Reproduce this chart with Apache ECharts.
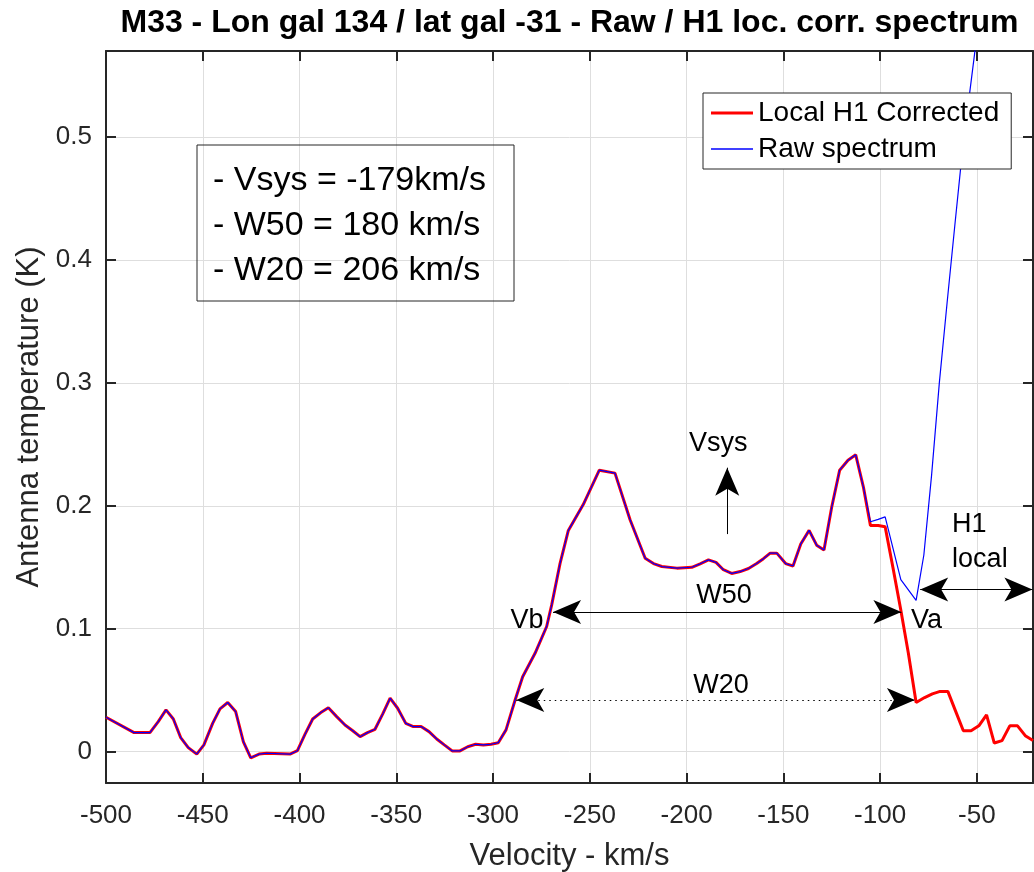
<!DOCTYPE html>
<html>
<head>
<meta charset="utf-8">
<script src="https://cdn.jsdelivr.net/npm/echarts@6/dist/echarts.min.js"></script>
<style>
  html, body { margin: 0; padding: 0; background: #ffffff; }
  #chart { width: 1034px; height: 872px; }
</style>
</head>
<body>
<div id="chart"></div>
<script>
// M33 HI profile: [velocity km/s, antenna temperature K]
// Channels where the raw and the local-HI corrected spectra coincide
const profileShared = [
  [-500, 0.028], [-485.5, 0.0155], [-477.3, 0.0155], [-473, 0.0244], [-469, 0.034],
  [-465.2, 0.0266], [-461.4, 0.0114], [-457.5, 0.0033], [-453.1, -0.002], [-449.4, 0.0055],
  [-444.9, 0.023], [-441.1, 0.0348], [-437.1, 0.040], [-433, 0.0326], [-429, 0.008],
  [-425.2, -0.005], [-420.9, -0.002], [-417, -0.0013], [-404.9, -0.002], [-401.1, 0.0008],
  [-397.2, 0.014], [-393.2, 0.0266], [-389, 0.0318], [-385.1, 0.0358], [-380.8, 0.0285],
  [-376.5, 0.0217], [-372.5, 0.017], [-368.7, 0.0122], [-364.9, 0.0155], [-361, 0.0182],
  [-357, 0.0307], [-353.2, 0.0435], [-349.3, 0.0353], [-345.1, 0.023], [-341.2, 0.0204],
  [-337.2, 0.0204], [-333.1, 0.0163], [-329.1, 0.0103], [-325.2, 0.0055], [-321.1, 0.0006],
  [-317.1, 0.0006], [-313.1, 0.004], [-309, 0.006], [-305, 0.0055], [-301, 0.006],
  [-297.3, 0.0073], [-293.3, 0.0177], [-288.6, 0.042], [-284.7, 0.061], [-278.3, 0.080],
  [-272.3, 0.1018], [-269.7, 0.1194], [-265.4, 0.153], [-261.1, 0.180], [-253.4, 0.201],
  [-245.1, 0.229], [-237, 0.2266], [-229.2, 0.1886], [-221.4, 0.1574], [-217.1, 0.153],
  [-212.8, 0.1506], [-205, 0.1493], [-197.3, 0.150], [-193, 0.1528], [-188.7, 0.156],
  [-184.8, 0.154], [-181, 0.148], [-176.7, 0.145], [-172.3, 0.1465], [-168, 0.149],
  [-163.8, 0.153], [-160.3, 0.157], [-156.8, 0.1615], [-153.4, 0.1615], [-148.8, 0.153],
  [-145, 0.151], [-141, 0.169], [-136.7, 0.180], [-132.8, 0.168], [-129, 0.164],
  [-125, 0.199], [-120.9, 0.229], [-116.6, 0.237], [-112.6, 0.2415], [-108.6, 0.215]
];
// Corrected spectrum beyond the point where local Galactic HI starts
const correctedTail = [
  [-105, 0.184], [-101, 0.184], [-97.4, 0.183], [-93.4, 0.150], [-89.4, 0.116],
  [-85.4, 0.080], [-81.4, 0.040], [-77, 0.044], [-73, 0.047], [-69, 0.049],
  [-65, 0.049], [-61, 0.033], [-57, 0.017], [-53, 0.017], [-49, 0.021],
  [-45, 0.030], [-41, 0.007], [-37, 0.009], [-33, 0.021], [-29, 0.021],
  [-25, 0.013], [-21, 0.009]
];
// Raw spectrum beyond the same point (rises into the local HI emission)
const rawTail = [
  [-105, 0.187], [-101, 0.189], [-97.4, 0.191], [-89.3, 0.140], [-81.4, 0.123],
  [-77.4, 0.160], [-73.4, 0.225], [-69.4, 0.300], [-65.4, 0.365], [-61.4, 0.428],
  [-57.4, 0.490], [-53.4, 0.540], [-49.4, 0.590]
];

// Axis ranges
const velRange = [-500, -21];
const velStep = 50;
const tempRange = [-0.0255, 0.570];

// Measured profile parameters
const vsys = -179;
const w50 = 180;
const w20 = 206;
const w20Center = -185;
const w50Level = 0.1137;
const w20Level = 0.042;
const vsysArrowSpan = [0.177, 0.231];
const h1LocalSpan = [-79.3, -21.3];
const h1LocalLevel = 0.132;

const FONT = '"Liberation Sans", Arial, Helvetica, sans-serif';
const INK = '#262626';
const GRID = { left: 106, right: 1, top: 51, bottom: 89 };

const corrected = profileShared.concat(correctedTail);
const raw = profileShared.concat(rawTail);

const chart = echarts.init(document.getElementById('chart'), null, { renderer: 'canvas' });

const arrowStyle = { color: '#000', width: 1, type: 'solid' };
function arrowLine(x1, y1, x2, y2, twoHeads, dotted) {
  return [
    { coord: [x1, y1], symbol: twoHeads ? 'arrow' : 'none',
      lineStyle: Object.assign({}, arrowStyle, { type: dotted ? [1.5, 4] : 'solid' }) },
    { coord: [x2, y2], symbol: 'arrow' }
  ];
}
function note(text, x, y, align) {
  return {
    coord: [x, y], symbol: 'circle', symbolSize: 0,
    itemStyle: { color: 'rgba(0,0,0,0)' },
    label: { show: true, position: 'inside', formatter: text, align: align || 'center',
             fontFamily: FONT, fontSize: 27, color: '#000' }
  };
}

const fmtTemp = v => Math.abs(v * 10 - Math.round(v * 10)) < 1e-6 ? String(Math.round(v * 10) / 10) : '';
const fmtVel = v => (Math.abs(v % velStep) < 1e-6) ? String(v) : '';

const xBase = {
  type: 'value', min: velRange[0], max: velRange[1], interval: velStep,
  axisLine: { show: true, onZero: false, lineStyle: { color: INK, width: 2 } },
  axisTick: { show: true, inside: true, length: 10, lineStyle: { color: INK, width: 2 } }
};
const yBase = {
  type: 'value', min: tempRange[0], max: tempRange[1],
  axisLine: { show: true, onZero: false, lineStyle: { color: INK, width: 2 } },
  axisTick: { show: true, inside: true, length: 10, lineStyle: { color: INK, width: 2 } }
};

chart.setOption({
  animation: false,
  backgroundColor: '#ffffff',
  grid: Object.assign({ containLabel: false, outerBoundsMode: 'none' }, GRID),
  legend: {
    orient: 'vertical', left: 703, top: 93,
    padding: [6, 12, 6, 8], itemGap: 8, itemWidth: 42, itemHeight: 14,
    symbolKeepAspect: true,
    backgroundColor: '#ffffff', borderColor: INK, borderWidth: 1,
    textStyle: { fontFamily: FONT, fontSize: 28, color: '#000' },
    data: [
      { name: 'Local H1 Corrected', icon: 'path://M0,0H100V7H0Z' },
      { name: 'Raw spectrum', icon: 'path://M0,0H100V3H0Z' }
    ]
  },
  xAxis: [
    Object.assign({}, xBase, {
      position: 'bottom',
      name: 'Velocity - km/s', nameLocation: 'middle', nameGap: 58,
      nameTextStyle: { fontFamily: FONT, fontSize: 31, color: INK },
      axisLabel: { margin: 20, fontFamily: FONT, fontSize: 26, color: INK, formatter: fmtVel },
      splitLine: { show: true, lineStyle: { color: '#dedede', width: 1 } }
    }),
    Object.assign({}, xBase, {
      position: 'top', axisLabel: { show: false }, splitLine: { show: false }
    })
  ],
  yAxis: [
    Object.assign({}, yBase, {
      position: 'left',
      name: 'Antenna temperature (K)', nameLocation: 'middle', nameGap: 60,
      nameTextStyle: { fontFamily: FONT, fontSize: 31, color: INK },
      axisLabel: { margin: 14, fontFamily: FONT, fontSize: 26, color: INK, formatter: fmtTemp },
      splitLine: { show: true, lineStyle: { color: '#dedede', width: 1 } }
    }),
    Object.assign({}, yBase, {
      position: 'right', axisLabel: { show: false }, splitLine: { show: false }
    })
  ],
  series: [
    {
      name: 'Local H1 Corrected', type: 'line', data: corrected,
      symbol: 'none', showSymbol: false, z: 2,
      lineStyle: { color: '#ff0000', width: 3 }, itemStyle: { color: '#ff0000' }
    },
    {
      name: 'Raw spectrum', type: 'line', data: raw,
      symbol: 'none', showSymbol: false, z: 3,
      lineStyle: { color: '#0000ff', width: 1.2 }, itemStyle: { color: '#0000ff' },
      markLine: {
        silent: true, animation: false,
        symbolSize: [18, 28],
        label: { show: false },
        lineStyle: arrowStyle,
        data: [
          arrowLine(vsys, vsysArrowSpan[0], vsys, vsysArrowSpan[1], false, false),
          arrowLine(vsys - w50 / 2, w50Level, vsys + w50 / 2, w50Level, true, false),
          arrowLine(w20Center - w20 / 2, w20Level, w20Center + w20 / 2, w20Level, true, true),
          arrowLine(h1LocalSpan[0], h1LocalLevel, h1LocalSpan[1], h1LocalLevel, true, false)
        ]
      },
      markPoint: {
        silent: true, animation: false,
        data: [
          note('Vsys', -183.7, 0.251),
          note('W50', -180.6, 0.127),
          note('W20', -182.2, 0.0535),
          note('Vb', -282.4, 0.107),
          note('Va', -76, 0.107),
          note('H1', -62.8, 0.185, 'left'),
          note('local', -62.8, 0.156, 'left')
        ]
      }
    }
  ],
  graphic: [
    {
      type: 'text', x: (GRID.left + 1034 - GRID.right) / 2, y: 23,
      style: {
        text: 'M33 - Lon gal 134 / lat gal -31 - Raw / H1 loc. corr. spectrum',
        font: 'bold 32px ' + FONT, fill: '#000', align: 'center', verticalAlign: 'middle'
      }
    },
    {
      type: 'rect', x: 197, y: 145, z: 10,
      shape: { width: 317, height: 156 },
      style: { fill: 'none', stroke: INK, lineWidth: 1 }
    },
    {
      type: 'text', x: 213, y: 158, z: 10,
      style: {
        text: '- Vsys = ' + vsys + 'km/s\n- W50 = ' + w50 + ' km/s\n- W20 = ' + w20 + ' km/s',
        font: '34px ' + FONT, fill: '#000', lineHeight: 45, verticalAlign: 'top'
      }
    }
  ]
});
</script>
</body>
</html>
